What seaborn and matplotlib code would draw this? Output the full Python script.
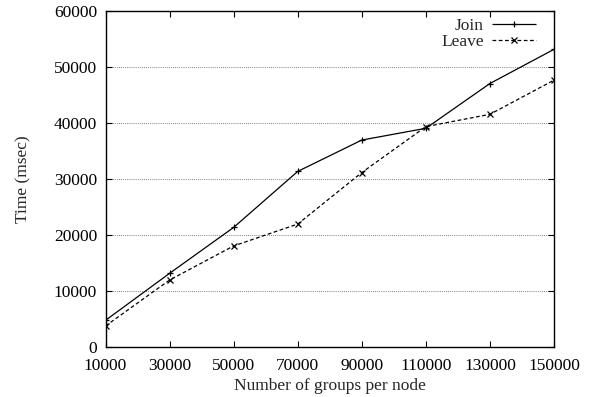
import matplotlib
matplotlib.use("Agg")
import matplotlib.pyplot as plt
import seaborn as sns
import pandas as pd

groups = [10000, 30000, 50000, 70000, 90000, 110000, 130000, 150000]
join_ms = [4700, 13100, 21300, 31300, 36900, 39000, 47000, 53100]
leave_ms = [3700, 11900, 18000, 21900, 31100, 39300, 41500, 47600]
xticks = [10000, 30000, 50000, 70000, 90000, 110000, 130000, 150000]
yticks = [0, 10000, 20000, 30000, 40000, 50000, 60000]

df = pd.DataFrame({
    "groups": groups * 2,
    "time": join_ms + leave_ms,
    "series": ["Join"] * len(groups) + ["Leave"] * len(groups),
})

sns.set_theme(style="white")
plt.rcParams["font.family"] = ["Liberation Serif", "DejaVu Serif"]
FS = 12.5
plt.rcParams["font.size"] = FS

fig = plt.figure(figsize=(5.92, 3.97), dpi=100)
ax = fig.add_axes([105.5 / 592, 1 - 346.7 / 397, (554 - 105.5) / 592, (346.7 - 10.7) / 397])

sns.lineplot(data=df, x="groups", y="time", hue="series", style="series",
             palette={"Join": "black", "Leave": "black"},
             markers={"Join": "+", "Leave": "x"},
             dashes={"Join": (1, 0), "Leave": (3, 2)},
             linewidth=0.9, markersize=5, markeredgewidth=0.9,
             markeredgecolor="black", markerfacecolor="black",
             ax=ax)

ax.set_xlim(10000, 150000)
ax.set_ylim(0, 60000)
ax.set_xticks(xticks)
ax.set_xticklabels([str(v) for v in xticks])
ax.set_yticks(yticks)
ax.set_yticklabels([str(v) for v in yticks])
ax.tick_params(axis="both", direction="in", length=4, width=0.8, colors="black",
               labelsize=FS, top=True, right=True, bottom=True, left=True)
ax.tick_params(axis="x", pad=8)
ax.tick_params(axis="y", pad=6)
for s in ax.spines.values():
    s.set_color("black")
    s.set_linewidth(1.0)
for yv in yticks[1:-1]:
    ax.axhline(yv, color="#555555", linestyle=(0, (1, 1.5)), linewidth=0.6, zorder=0)

ax.set_xlabel("Number of groups per node", fontsize=FS, labelpad=3)
ax.set_ylabel("Time (msec)", fontsize=FS, labelpad=16)

leg = ax.legend(loc="upper right", frameon=False, markerfirst=False,
                handlelength=2.5, fontsize=FS, borderaxespad=0.0,
                labelspacing=0.0, handletextpad=0.5,
                bbox_to_anchor=(0.975, 1.0))

fig.savefig("out.png", dpi=100)
